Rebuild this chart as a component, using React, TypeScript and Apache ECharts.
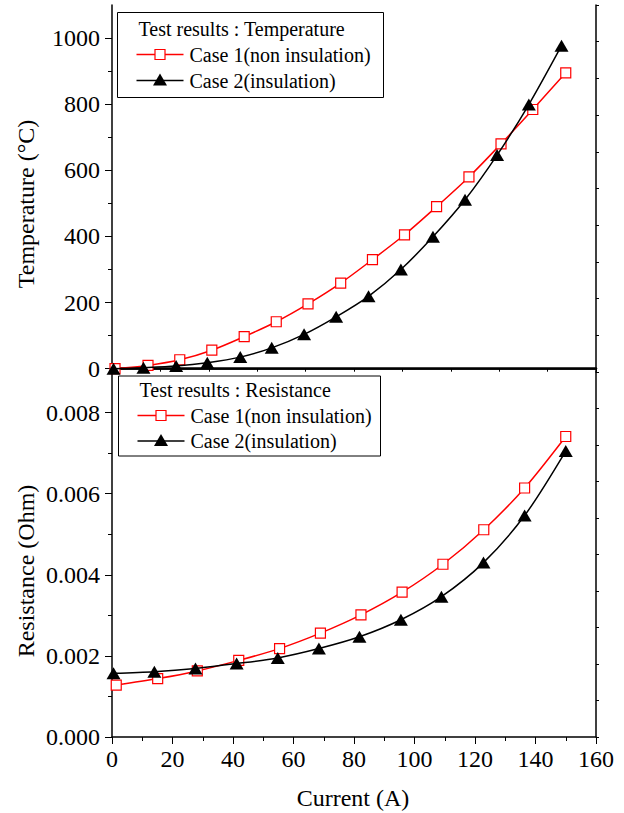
import React, { useEffect, useRef } from "react";
import * as echarts from "echarts";

// ---- Data ----
// Top panel: Temperature (°C) vs Current (A)
const tempCase1X = [1.0, 11.9, 22.4, 33.0, 43.7, 54.3, 64.8, 75.6, 86.1, 96.7, 107.3, 118.0, 128.6, 139.1, 150.0];
const tempCase1Y = [0, 10, 27, 56, 97, 142, 196, 259, 330, 405, 490, 580, 680, 784, 895];
const tempCase2X = [0.5, 10.4, 21.2, 31.5, 42.4, 52.8, 63.5, 74.1, 84.8, 95.5, 106.1, 116.7, 127.3, 137.8, 148.6];
const tempCase2Y = [0, 3, 8, 18, 35, 63, 104, 157, 219, 300, 399, 511, 646, 799, 977];

// Bottom panel: Resistance (Ohm) vs Current (A)
const resCase1X = [1.4, 15.1, 28.2, 41.9, 55.4, 68.9, 82.3, 95.9, 109.4, 122.9, 136.4, 150.0];
const resCase1Y = [0.00128, 0.00144, 0.00163, 0.00189, 0.00218, 0.00256, 0.00301, 0.00357, 0.00426, 0.00511, 0.00614, 0.00741];
const resCase2X = [0.5, 14.0, 27.6, 41.2, 54.8, 68.4, 81.8, 95.5, 108.9, 122.8, 136.4, 150.0];
const resCase2Y = [0.00157, 0.00161, 0.00169, 0.00181, 0.00195, 0.00218, 0.00247, 0.00289, 0.00346, 0.0043, 0.00546, 0.00705];

const tempMajorTicks = [0, 200, 400, 600, 800, 1000];
const tempMinorTicks = [100, 300, 500, 700, 900];
const resMajorTicks = [0, 0.002, 0.004, 0.006, 0.008];
const resMinorTicks = [0.001, 0.003, 0.005, 0.007];

const seriesNames = ["Case 1(non insulation)", "Case 2(insulation)"];
const legendTitles = ["Test results : Temperature", "Test results : Resistance"];
const axisTitles = { temp: "Temperature (°C)", res: "Resistance (Ohm)", current: "Current (A)" };

const FONT = "Liberation Serif";
const RED = "#ff0000";

function pairs(xs: number[], ys: number[]) {
  return xs.map((x, i) => [x, ys[i]]);
}

function txt(x: number, y: number, text: string, size: number, extra: any = {}) {
  return {
    type: "text", x, y, z: 101, ...extra,
    style: { text, fontFamily: FONT, fontSize: size, fill: "#000", textVerticalAlign: "middle", ...(extra.style || {}) },
  };
}

function legendGroup(x0: number, y0: number, w: number, h: number, title: string, rowGap: number, titleDy: number) {
  const lineX1 = x0 + 19;
  const lineX2 = x0 + 66;
  const mx = (lineX1 + lineX2) / 2;
  const tx = x0 + 72;
  const r1 = y0 + titleDy + rowGap;
  const r2 = r1 + rowGap;
  return [
    { type: "rect", shape: { x: x0, y: y0, width: w, height: h }, style: { fill: "#fff", stroke: "#000", lineWidth: 1 }, z: 100 },
    txt(x0 + 21, y0 + titleDy, title, 20),
    { type: "line", shape: { x1: lineX1, y1: r1, x2: lineX2, y2: r1 }, style: { stroke: RED, lineWidth: 1.5 }, z: 101 },
    { type: "rect", shape: { x: mx - 5, y: r1 - 5, width: 10, height: 10 }, style: { fill: "#fff", stroke: RED, lineWidth: 1.2 }, z: 102 },
    txt(tx, r1, seriesNames[0], 20),
    { type: "line", shape: { x1: lineX1, y1: r2, x2: lineX2, y2: r2 }, style: { stroke: "#000", lineWidth: 1.5 }, z: 101 },
    { type: "polygon", shape: { points: [[mx, r2 - 7], [mx - 7, r2 + 5], [mx + 7, r2 + 5]] }, style: { fill: "#000" }, z: 102 },
    txt(tx, r2, seriesNames[1], 20),
  ];
}

export default function App() {
  const ref = useRef<HTMLDivElement>(null);

  useEffect(() => {
    if (!ref.current) return;
    const chart = echarts.init(ref.current, undefined, { renderer: "svg" });
    const axisLine = (w: number) => ({ show: true, lineStyle: { color: "#000", width: w } });
    const labelStyle = { fontFamily: FONT, fontSize: 24, color: "#000" };

    const option: any = {
      animation: false,
      backgroundColor: "#fff",
      textStyle: { fontFamily: FONT },
      grid: [
        { left: 112, top: 5, width: 484, height: 367 },
        { left: 112, top: 372, width: 484, height: 365 },
      ],
      xAxis: [
        { type: "value", gridIndex: 0, position: "bottom", min: 0, max: 160, interval: 20, axisLine: axisLine(2.5), axisTick: { show: false }, axisLabel: { show: false }, splitLine: { show: false } },
        { type: "value", gridIndex: 0, position: "top", min: 0, max: 10, interval: 1, axisLine: axisLine(1.5), axisTick: { show: true, inside: true, length: 3, lineStyle: { color: "#000" } }, axisLabel: { show: false }, splitLine: { show: false } },
        {
          type: "value", gridIndex: 1, position: "bottom", min: 0, max: 160, interval: 20,
          axisLine: axisLine(1.5),
          axisTick: { show: true, length: 7, lineStyle: { color: "#000", width: 1 } },
          minorTick: { show: true, splitNumber: 2, length: 4, lineStyle: { color: "#000", width: 1 } },
          axisLabel: { ...labelStyle, margin: 10, formatter: (v: number) => String(v) },
          splitLine: { show: false },
        },
      ],
      yAxis: [
        {
          type: "value", gridIndex: 0, position: "left", min: -10, max: 1100,
          axisLine: axisLine(1.5),
          axisTick: { show: true, length: 7, customValues: tempMajorTicks, lineStyle: { color: "#000" } },
          axisLabel: { ...labelStyle, margin: 12, customValues: tempMajorTicks, formatter: (v: number) => String(v) },
          splitLine: { show: false },
        },
        {
          type: "value", gridIndex: 0, position: "left", min: -10, max: 1100,
          axisLine: { show: false },
          axisTick: { show: true, length: 4, customValues: tempMinorTicks, lineStyle: { color: "#000" } },
          axisLabel: { show: false },
          splitLine: { show: false },
        },
        { type: "value", gridIndex: 0, position: "right", min: 0, max: 10, interval: 1, axisLine: axisLine(1.5), axisTick: { show: true, length: 3, lineStyle: { color: "#000" } }, axisLabel: { show: false }, splitLine: { show: false } },
        {
          type: "value", gridIndex: 1, position: "left", min: 0, max: 0.009,
          axisLine: axisLine(1.5),
          axisTick: { show: true, length: 7, customValues: resMajorTicks, lineStyle: { color: "#000" } },
          axisLabel: { ...labelStyle, margin: 12, customValues: resMajorTicks, formatter: (v: number) => v.toFixed(3) },
          splitLine: { show: false },
        },
        {
          type: "value", gridIndex: 1, position: "left", min: 0, max: 0.009,
          axisLine: { show: false },
          axisTick: { show: true, length: 4, customValues: resMinorTicks, lineStyle: { color: "#000" } },
          axisLabel: { show: false },
          splitLine: { show: false },
        },
        { type: "value", gridIndex: 1, position: "right", min: 0, max: 10, interval: 1, axisLine: axisLine(1.5), axisTick: { show: true, length: 3, lineStyle: { color: "#000" } }, axisLabel: { show: false }, splitLine: { show: false } },
      ],
      series: [
        {
          type: "line", name: seriesNames[0], xAxisIndex: 0, yAxisIndex: 0, data: pairs(tempCase1X, tempCase1Y),
          smooth: 0.3, symbol: "rect", symbolSize: 10,
          itemStyle: { color: "#fff", borderColor: RED, borderWidth: 1.2 }, lineStyle: { color: RED, width: 1.5 }, z: 3,
        },
        {
          type: "line", name: seriesNames[1], xAxisIndex: 0, yAxisIndex: 0, data: pairs(tempCase2X, tempCase2Y),
          smooth: 0.3, symbol: "triangle", symbolSize: [14, 12],
          itemStyle: { color: "#000" }, lineStyle: { color: "#000", width: 1.5 }, z: 4,
        },
        {
          type: "line", name: seriesNames[0], xAxisIndex: 2, yAxisIndex: 3, data: pairs(resCase1X, resCase1Y),
          smooth: 0.3, symbol: "rect", symbolSize: 10,
          itemStyle: { color: "#fff", borderColor: RED, borderWidth: 1.2 }, lineStyle: { color: RED, width: 1.5 }, z: 3,
        },
        {
          type: "line", name: seriesNames[1], xAxisIndex: 2, yAxisIndex: 3, data: pairs(resCase2X, resCase2Y),
          smooth: 0.3, symbol: "triangle", symbolSize: [14, 12],
          itemStyle: { color: "#000" }, lineStyle: { color: "#000", width: 1.5 }, z: 4,
        },
      ],
      graphic: [
        ...legendGroup(117.5, 12.5, 266, 85, legendTitles[0], 26, 16),
        ...legendGroup(118.5, 376, 262, 80, legendTitles[1], 25.5, 14),
        txt(26, 204, axisTitles.temp, 24, { rotation: Math.PI / 2, style: { textAlign: "center" } }),
        txt(26, 571, axisTitles.res, 24, { rotation: Math.PI / 2, style: { textAlign: "center" } }),
        txt(353, 798, axisTitles.current, 24, { style: { textAlign: "center" } }),
      ],
    };
    chart.setOption(option);
    return () => chart.dispose();
  }, []);

  return <div ref={ref} style={{ position: "absolute", left: 0, top: 0, width: 624, height: 813, background: "#fff" }} />;
}
